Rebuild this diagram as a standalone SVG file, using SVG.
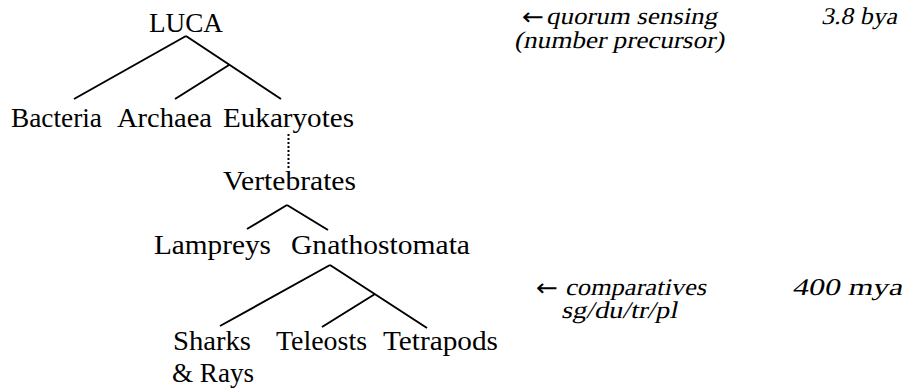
<svg xmlns="http://www.w3.org/2000/svg" width="911" height="389" viewBox="0 0 911 389">
  <style>
    .lbl { font-family: "Liberation Serif", "Times New Roman", serif; font-size: 27px; fill: #000; }
    /* slanted roman serif used for the side notes */
    .note { font-family: "Liberation Serif", "Times New Roman", serif; font-size: 24px; fill: #000; }
    .arrow { font-family: "DejaVu Sans", sans-serif; font-size: 24px; fill: #000; }
    .edge { stroke: #000; stroke-width: 2; fill: none; stroke-linecap: butt; }
    .dots { stroke: #000; stroke-width: 2; fill: none; stroke-dasharray: 2 2; }
  </style>
  <rect width="911" height="389" fill="#fff"/>

  <!-- tree branches -->
  <g id="connectors">
    <!-- LUCA split -->
    <path class="edge" d="M186 36 L74 99 M186 36 L281 99 M229 65 L175 99"/>
    <!-- Eukaryotes down to Vertebrates -->
    <path class="dots" d="M288.5 134 L288.5 168"/>
    <!-- Vertebrates split -->
    <path class="edge" d="M287 205 L247 229 M287 205 L328 230"/>
    <!-- Gnathostomata split -->
    <path class="edge" d="M330 265 L220 326 M330 265 L427 328 M375 294 L322 327"/>
  </g>

  <g id="luca"><text class="lbl" x="149" y="32" textLength="74" lengthAdjust="spacingAndGlyphs">LUCA</text></g>
  <g id="bacteria"><text class="lbl" x="11" y="127" textLength="91" lengthAdjust="spacingAndGlyphs">Bacteria</text></g>
  <g id="archaea"><text class="lbl" x="117" y="127" textLength="95" lengthAdjust="spacingAndGlyphs">Archaea</text></g>
  <g id="eukaryotes"><text class="lbl" x="223" y="127" textLength="131" lengthAdjust="spacingAndGlyphs">Eukaryotes</text></g>
  <g id="vertebrates"><text class="lbl" x="223" y="190" textLength="133" lengthAdjust="spacingAndGlyphs">Vertebrates</text></g>
  <g id="lampreys"><text class="lbl" x="154" y="254" textLength="117" lengthAdjust="spacingAndGlyphs">Lampreys</text></g>
  <g id="gnathostomata"><text class="lbl" x="291" y="254" textLength="179" lengthAdjust="spacingAndGlyphs">Gnathostomata</text></g>
  <g id="sharks-rays">
    <text class="lbl" x="173" y="350" textLength="78" lengthAdjust="spacingAndGlyphs">Sharks</text>
    <text class="lbl" x="172" y="382" textLength="82" lengthAdjust="spacingAndGlyphs">&amp; Rays</text>
  </g>
  <g id="teleosts"><text class="lbl" x="276" y="350" textLength="91" lengthAdjust="spacingAndGlyphs">Teleosts</text></g>
  <g id="tetrapods"><text class="lbl" x="383" y="350" textLength="115" lengthAdjust="spacingAndGlyphs">Tetrapods</text></g>

  <!-- side annotations (slant applied about each baseline) -->
  <g id="note-quorum">
    <text class="arrow" x="522" y="25" textLength="22" lengthAdjust="spacingAndGlyphs">←</text>
    <text class="note" transform="translate(546 24) skewX(-12)" textLength="171" lengthAdjust="spacingAndGlyphs">quorum sensing</text>
    <text class="note" transform="translate(514 48) skewX(-12)" textLength="210" lengthAdjust="spacingAndGlyphs">(number precursor)</text>
  </g>
  <g id="note-bya"><text class="note" transform="translate(821 24) skewX(-12)" textLength="76" lengthAdjust="spacingAndGlyphs">3.8 bya</text></g>
  <g id="note-comparatives">
    <text class="arrow" x="536" y="296" textLength="22" lengthAdjust="spacingAndGlyphs">←</text>
    <text class="note" transform="translate(565 295) skewX(-12)" textLength="141" lengthAdjust="spacingAndGlyphs">comparatives</text>
    <text class="note" transform="translate(561 318) skewX(-12)" textLength="116" lengthAdjust="spacingAndGlyphs">sg/du/tr/pl</text>
  </g>
  <g id="note-mya"><text class="note" transform="translate(792 295) skewX(-12)" textLength="110" lengthAdjust="spacingAndGlyphs">400 mya</text></g>
</svg>
